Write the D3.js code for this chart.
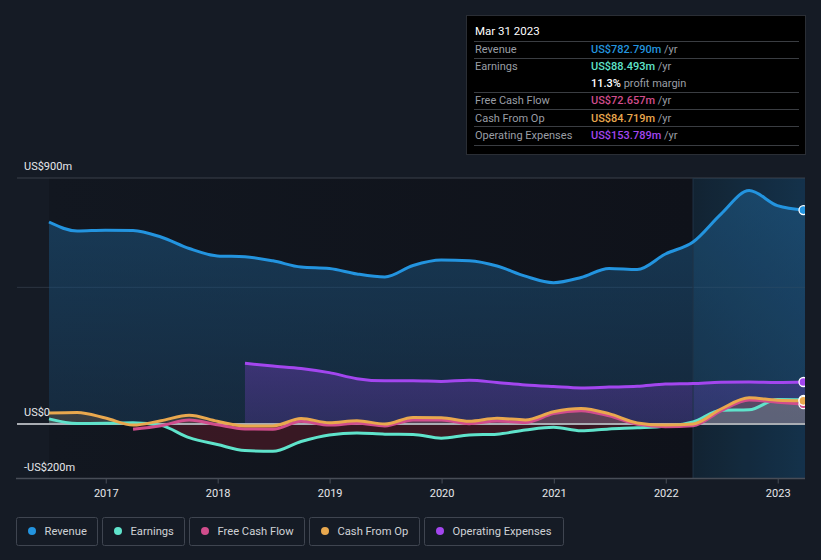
<!DOCTYPE html>
<html><head><meta charset="utf-8">
<script src="https://cdn.jsdelivr.net/npm/d3@7"></script>
<style>
html,body{margin:0;padding:0;background:#151b25;}
svg{display:block;font-family:Roboto,"Noto Sans",sans-serif;}
</style></head>
<body>
<svg id="c" width="821" height="560"></svg>
<script>
const quarters = ["2016-06-30","2016-09-30","2016-12-31","2017-03-31","2017-06-30","2017-09-30","2017-12-31","2018-03-31","2018-06-30","2018-09-30","2018-12-31","2019-03-31","2019-06-30","2019-09-30","2019-12-31","2020-03-31","2020-06-30","2020-09-30","2020-12-31","2021-03-31","2021-06-30","2021-09-30","2021-12-31","2022-03-31","2022-06-30","2022-09-30","2022-12-31","2023-03-31"];
const revenue  = [739,706,709,708,684,642,615,612,597,574,569,549,538,580,600,597,578,541,517,536,569,565,622,666,768,854,799,782.79];
const earnings = [19,2,3,5,-5,-50,-75,-97,-100,-64,-40,-33,-37,-38,-52,-40,-37,-22,-12,-25,-18,-14,-8,8,50,52,90,88.493];
const fcf      = [null,null,null,-19,-6,15,-3,-18,-19,10,-4,3,-7,15,15,1,11,6,38,49,30,-1,-10,-6,48,88,80,72.657];
const cfo      = [40,42,22,-4,12,32,10,-7,-7,20,5,12,0,24,23,10,21,15,45,57,38,4,-4,0,55,96,87,84.719];
const opex     = [null,null,null,null,null,null,null,222,212,203,188,166,158,158,156,160,152,143,137,132,135,138,146,148,153,154,152,153.789];
const yTicks = [900, 0, -200];
const yTickLabels = ["US$900m","US$0","-US$200m"];
const xTickYears = [2017,2018,2019,2020,2021,2022,2023];
const legendNames = ["Revenue","Earnings","Free Cash Flow","Cash From Op","Operating Expenses"];
const colors = {revenue:"#2394df", earnings:"#5fe3cb", fcf:"#d14d8c", cfo:"#e9a84e", opex:"#a346ef"};

const parse = d3.timeParse("%Y-%m-%d");
const dates = quarters.map(parse);
const svg = d3.select("#c");

const x = d3.scaleTime().domain([dates[0], dates[dates.length-1]]).range([49, 805]);
const y = d3.scaleLinear().domain([-200, 900]).range([478.7, 178]);

const defs = svg.append("defs");
function lg(id, x1,y1,x2,y2, stops){
  const g = defs.append("linearGradient").attr("id",id).attr("x1",x1).attr("y1",y1).attr("x2",x2).attr("y2",y2);
  stops.forEach(s=>g.append("stop").attr("offset",s[0]).attr("stop-color",s[1]).attr("stop-opacity",s[2]));
}
lg("bgPast","0","0","1","0",[[0,"#121720",1],[1,"#0f121a",1]]);
lg("bgHi","0","0","1","0",[[0,"#0f1a24",1],[1,"#122a40",1]]);
lg("revFill","0","0","0","1",[[0,"#1d5a88",0.55],[1,"#1a3d5c",0.5]]);
lg("opFill","0","0","0","1",[[0,"#6a3ab0",0.45],[1,"#5a3aa0",0.35]]);

const x0 = x(dates[0]), xEnd = 805, xHi = x(parse("2022-03-31"));
defs.append("clipPath").attr("id","above").append("rect").attr("x",0).attr("y",0).attr("width",821).attr("height",y(0));
defs.append("clipPath").attr("id","below").append("rect").attr("x",0).attr("y",y(0)).attr("width",821).attr("height",200);

// plot backgrounds
svg.append("rect").attr("x",x0).attr("y",y(900)).attr("width",xHi-x0).attr("height",y(-200)-y(900)).attr("fill","url(#bgPast)");
svg.append("rect").attr("x",xHi).attr("y",y(900)).attr("width",xEnd-xHi).attr("height",y(-200)-y(900)).attr("fill","url(#bgHi)");

// gridlines
svg.append("line").attr("x1",17).attr("x2",xEnd).attr("y1",y(900)).attr("y2",y(900)).attr("stroke","#3b404b").attr("stroke-width",1);
svg.append("line").attr("x1",17).attr("x2",xEnd).attr("y1",y(500)).attr("y2",y(500)).attr("stroke","#2c3542").attr("stroke-width",1);

function series(arr){ return dates.map((d,i)=>({d, v:arr[i]})).filter(p=>p.v!==null); }
const curve = d3.curveMonotoneX;
const area = d3.area().x(p=>x(p.d)).y0(y(0)).y1(p=>y(p.v)).curve(curve);
const line = d3.line().x(p=>x(p.d)).y(p=>y(p.v)).curve(curve);

const R = series(revenue), E = series(earnings), F = series(fcf), C = series(cfo), O = series(opex);

svg.append("path").attr("d",area(R)).attr("fill","url(#revFill)");
svg.append("path").attr("d",area(O)).attr("fill","url(#opFill)");
svg.append("path").attr("d",area(F)).attr("clip-path","url(#above)").attr("fill","#9a3a5a").attr("fill-opacity",0.25);
svg.append("path").attr("d",area(F)).attr("clip-path","url(#below)").attr("fill","#7a2030").attr("fill-opacity",0.35);
svg.append("path").attr("d",area(C)).attr("clip-path","url(#above)").attr("fill","#8a6a4a").attr("fill-opacity",0.3);
svg.append("path").attr("d",area(C)).attr("clip-path","url(#below)").attr("fill","#7a2030").attr("fill-opacity",0.3);
svg.append("path").attr("d",area(E)).attr("clip-path","url(#above)").attr("fill","#7fb8b8").attr("fill-opacity",0.25);
svg.append("path").attr("d",area(E)).attr("clip-path","url(#below)").attr("fill","#5a1c28").attr("fill-opacity",0.55);

// highlight overlay
svg.append("rect").attr("x",xHi).attr("y",y(900)).attr("width",xEnd-xHi).attr("height",y(-200)-y(900)).attr("fill","#2a6aa0").attr("fill-opacity",0.12);
svg.append("line").attr("x1",xHi).attr("x2",xHi).attr("y1",y(900)).attr("y2",y(-200)).attr("stroke","#1f3448").attr("stroke-width",1);

// zero line
svg.append("line").attr("x1",17).attr("x2",xEnd).attr("y1",y(0)).attr("y2",y(0)).attr("stroke","#a9adb3").attr("stroke-width",2);

const lw = 3;
svg.append("path").attr("d",line(E)).attr("fill","none").attr("stroke",colors.earnings).attr("stroke-width",lw);
svg.append("path").attr("d",line(F)).attr("fill","none").attr("stroke",colors.fcf).attr("stroke-width",lw);
svg.append("path").attr("d",line(C)).attr("fill","none").attr("stroke",colors.cfo).attr("stroke-width",lw);
svg.append("path").attr("d",line(O)).attr("fill","none").attr("stroke",colors.opex).attr("stroke-width",lw);
svg.append("path").attr("d",line(R)).attr("fill","none").attr("stroke",colors.revenue).attr("stroke-width",lw);

// end markers
[[E,"earnings"],[F,"fcf"],[C,"cfo"],[O,"opex"],[R,"revenue"]].forEach(([s,k])=>{
  const p = s[s.length-1];
  svg.append("circle").attr("cx",x(p.d)-1.5).attr("cy",y(p.v)).attr("r",4.5).attr("fill",colors[k]).attr("stroke","#fff").attr("stroke-width",1.3);
});
// clip right side
svg.append("rect").attr("x",xEnd).attr("y",150).attr("width",16).attr("height",340).attr("fill","#151b25");

// y labels
yTicks.forEach((t,i)=>{
  svg.append("text").attr("x",24).attr("y",y(t)-8).attr("fill","#e6e8eb").attr("font-size",11).text(yTickLabels[i]);
});

// x axis
svg.append("line").attr("x1",16).attr("x2",xEnd).attr("y1",478.5).attr("y2",478.5).attr("stroke","#484d57").attr("stroke-width",1.5);
const xa = svg.append("g").attr("transform","translate(0,478.5)")
  .call(d3.axisBottom(x).tickValues(xTickYears.map(yv=>new Date(yv,0,1))).tickFormat(d3.timeFormat("%Y")).tickSize(5).tickPadding(6));
xa.select(".domain").remove();
xa.selectAll("line").attr("stroke","#484d57");
xa.selectAll("text").attr("fill","#e6e8eb").attr("font-size",11).attr("font-family","Roboto, sans-serif");

// legend
const legendColors = [colors.revenue,colors.earnings,colors.fcf,colors.cfo,colors.opex];
const legX = [16.5,102.5,189.5,309.5,424.5];
const legW = [81,82,115,110,139];
legendNames.forEach((n,i)=>{
  const g = svg.append("g").attr("transform",`translate(${legX[i]},517.5)`);
  g.append("rect").attr("width",legW[i]).attr("height",28).attr("rx",2).attr("fill","none").attr("stroke","#3f4550").attr("stroke-width",1);
  g.append("circle").attr("cx",15.5).attr("cy",13.5).attr("r",4).attr("fill",legendColors[i]);
  g.append("text").attr("x",28).attr("y",17.5).attr("fill","#cfd2d6").attr("font-size",11.2).text(n);
});

// tooltip
const tt = svg.append("g");
tt.append("rect").attr("x",466.5).attr("y",15.5).attr("width",339).attr("height",139).attr("fill","#000").attr("stroke","#2a2e35");
tt.append("text").attr("x",475).attr("y",35).attr("fill","#fff").attr("font-size",11.5).text("Mar 31 2023");
const ttLines = [41.5,58.5,92.5,109.5,126.5,145.5];
ttLines.forEach(l=>tt.append("line").attr("x1",474).attr("x2",799).attr("y1",l).attr("y2",l).attr("stroke","#3a3d42").attr("stroke-width",1));
const rows = [
  {label:"Revenue", val:"US$782.790m", col:colors.revenue, y:53},
  {label:"Earnings", val:"US$88.493m", col:colors.earnings, y:70},
  {label:"Free Cash Flow", val:"US$72.657m", col:colors.fcf, y:104},
  {label:"Cash From Op", val:"US$84.719m", col:colors.cfo, y:122},
  {label:"Operating Expenses", val:"US$153.789m", col:colors.opex, y:139}
];
rows.forEach(r=>{
  tt.append("text").attr("x",475).attr("y",r.y).attr("fill","#9a9ea5").attr("font-size",11).text(r.label);
  const t = tt.append("text").attr("x",591).attr("y",r.y).attr("font-size",11);
  t.append("tspan").attr("fill",r.col).attr("font-weight",500).text(r.val);
  t.append("tspan").attr("fill","#9a9ea5").text(" /yr");
});
const pm = tt.append("text").attr("x",591).attr("y",87).attr("font-size",11);
pm.append("tspan").attr("fill","#fff").attr("font-weight",500).text("11.3%");
pm.append("tspan").attr("fill","#9a9ea5").text(" profit margin");
</script>
</body></html>
